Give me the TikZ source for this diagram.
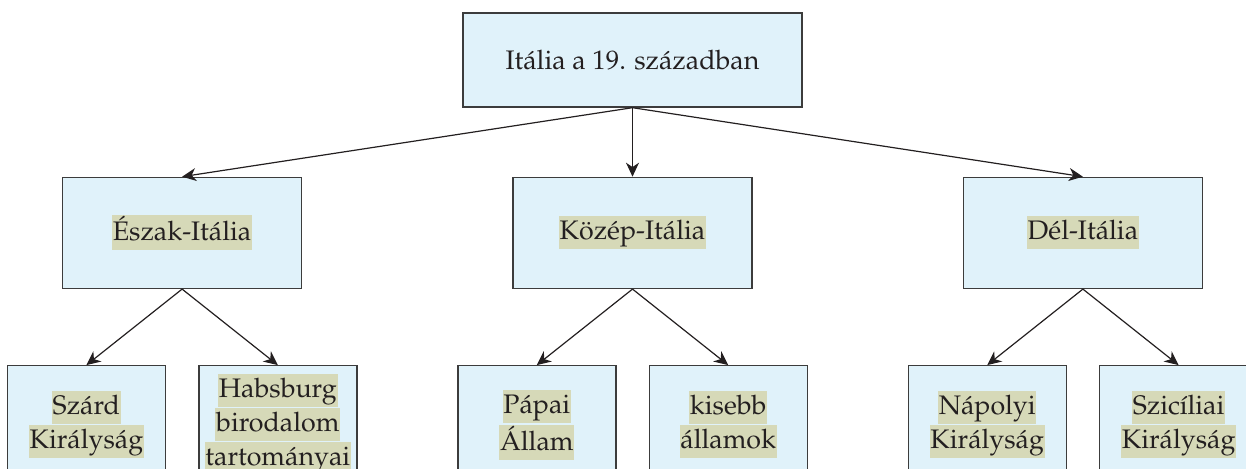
\documentclass[tikz,border=0pt]{standalone}
\usepackage[T1]{fontenc}
\usepackage{mathpazo}
\usepackage{xcolor}
\usepackage{tikz}
\usetikzlibrary{arrows.meta, positioning}

\definecolor{boxblue}{RGB}{224,242,250}
\definecolor{boxline}{RGB}{60,60,60}
\definecolor{hlgreen}{RGB}{214,217,184}
\definecolor{ink}{RGB}{35,31,32}
\newcommand{\hlt}[1]{{\setlength{\fboxsep}{0.4pt}\colorbox{hlgreen}{\rule[-4.4pt]{0pt}{15.7pt}#1}}}

\begin{document}
\begin{tikzpicture}[font=\fontsize{13.4}{17}\selectfont, text=ink]
\tikzstyle{box} = [rectangle, draw=boxline, line width=0.7pt, fill=boxblue, align=center, inner sep=2pt]
\tikzstyle{region} = [box, minimum width=119.5pt, minimum height=55.5pt]
\tikzstyle{leaf} = [box, minimum width=79pt, minimum height=59pt]
\tikzstyle{link} = [-{Stealth[length=7pt, width=6.5pt, inset=2.2pt]}, line width=0.6pt, draw=ink]

\useasboundingbox (0,0) rectangle (623pt,-234.5pt);

\node (italia) [box, minimum width=169.5pt, minimum height=47pt] at (316.25pt,-30pt) {Itália a 19. században};

\node (kozep) [region, below=34.5pt of italia] {\hlt{Közép-Itália}};
\node (eszak) [region, left=105pt of kozep] {\hlt{Észak-Itália}};
\node (del) [region, right=105pt of kozep] {\hlt{Dél-Itália}};

\node (szard) [leaf, below left=38pt and 8pt of eszak.south] {\hlt{Szárd}\\\hlt{Királyság}};
\node (habsburg) [leaf, below right=38pt and 8pt of eszak.south] {\hlt{Habsburg}\\\hlt{birodalom}\\\hlt{tartományai}};
\node (papai) [leaf, below left=38pt and 8pt of kozep.south] {\hlt{Pápai}\\\hlt{Állam}};
\node (kisebb) [leaf, below right=38pt and 8pt of kozep.south] {\hlt{kisebb}\\\hlt{államok}};
\node (napolyi) [leaf, below left=38pt and 8pt of del.south] {\hlt{Nápolyi}\\\hlt{Királyság}};
\node (sziciliai) [leaf, below right=38pt and 8pt of del.south] {\hlt{Szicíliai}\\\hlt{Királyság}};

\draw [link] (italia.south) -- (eszak.north);
\draw [link] (italia.south) -- (kozep.north);
\draw [link] (italia.south) -- (del.north);

\draw [link] (eszak.south) -- (szard.north);
\draw [link] (eszak.south) -- (habsburg.north);
\draw [link] (kozep.south) -- (papai.north);
\draw [link] (kozep.south) -- (kisebb.north);
\draw [link] (del.south) -- (napolyi.north);
\draw [link] (del.south) -- (sziciliai.north);
\end{tikzpicture}
\end{document}
